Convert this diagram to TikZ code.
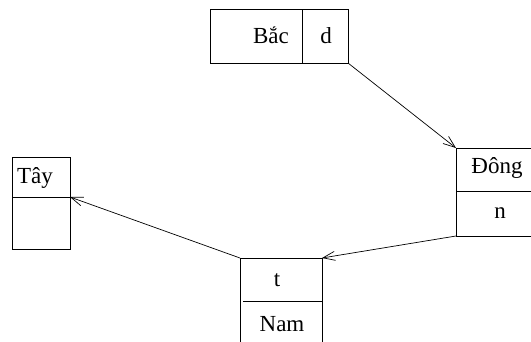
\documentclass[tikz,border=0pt]{standalone}
\usepackage{fontspec}
\setmainfont{Liberation Serif}
\usetikzlibrary{arrows.meta}
\begin{document}
\begin{tikzpicture}[x=1pt,y=-1pt,
  frame/.style={draw, rectangle, line width=0.8pt, inner sep=0pt, outer sep=0pt},
  rule/.style={line width=0.8pt},
  word/.style={font=\fontsize{23}{26}\selectfont, anchor=base, inner sep=0pt},
  link/.style={line width=0.7pt, -{Straight Barb[length=12pt,width=9pt]}}]
\useasboundingbox (0,0) rectangle (531,341);
\clip (0,0) rectangle (531,341);

% record boxes
\node[frame, minimum width=138pt, minimum height=54pt] (bac)  at (279,36)  {};
\node[frame, minimum width=84pt,  minimum height=88pt] (dong) at (498,192) {};
\node[frame, minimum width=58pt,  minimum height=92pt] (tay)  at (41,203)  {};
\node[frame, minimum width=82pt,  minimum height=92pt] (nam)  at (281,304) {};

% field separators
\coordinate (bacsplit)  at (302,9);
\coordinate (dongsplit) at (456,191);
\coordinate (taysplit)  at (70,197);
\coordinate (namsplit)  at (322,301);
\draw[rule] (bacsplit) -- (bacsplit |- bac.south);
\draw[rule] (dongsplit) -- (dong.east |- dongsplit);
\draw[rule] (tay.west |- taysplit) -- (taysplit);
\draw[rule] (243,301) -- (namsplit);

% field texts
\node[word] (tbac)  at (271,43)  {Bắc};
\node[word] (td)    at (326,43)  {d};
\node[word] (tdong) at (497,173) {Đông};
\node[word] (tn)    at (500,218) {n};
\node[word] (ttay)  at (35,183)  {Tây};
\node[word] (tt)    at (277,286) {t};
\node[word] (tnam)  at (282,331) {Nam};

% links between records
\draw[link] (bac.south east) -- (dong.north west);
\draw[link] (dong.south west) -- (nam.north east);
\draw[link] (nam.north west) -- (taysplit);
\end{tikzpicture}
\end{document}
